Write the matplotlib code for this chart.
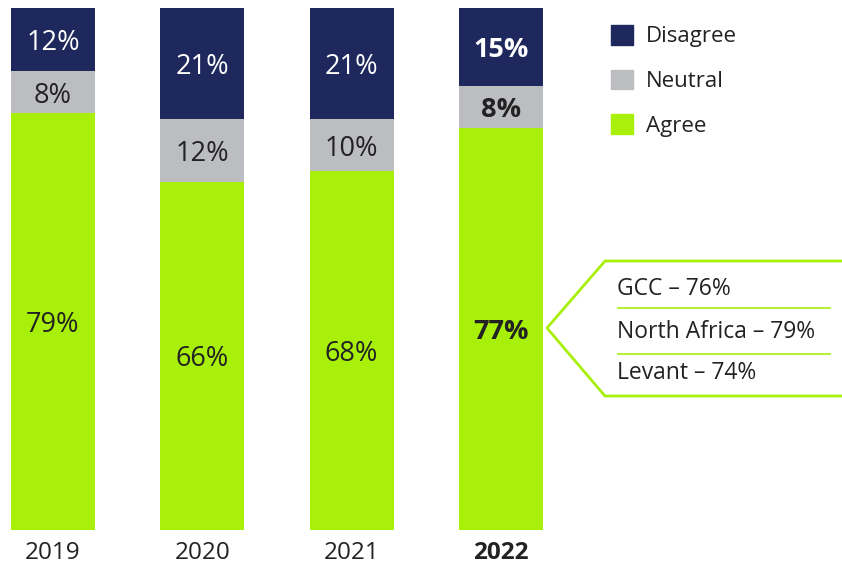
import numpy as np
import matplotlib
matplotlib.use("Agg")
import matplotlib.pyplot as plt
from matplotlib.patches import Patch

plt.rcParams['font.family'] = ['Open Sans', 'DejaVu Sans']

# data
years = ['2019', '2020', '2021', '2022']
agree = [79, 66, 68, 77]
neutral = [8, 12, 10, 8]
disagree = [12, 21, 21, 15]
regions = ['GCC', 'North Africa', 'Levant']
region_agree = [76, 79, 74]

navy = '#1e285c'
grey = '#bcbdc1'
green = '#a8f00a'
txt = '#222222'

fig = plt.figure(figsize=(8.42, 5.65), dpi=100)
ax = fig.add_axes([0, 35 / 565, 1, 522 / 565])

x = np.arange(len(years))
tot = np.array(agree) + np.array(neutral) + np.array(disagree)
a = np.array(agree) / tot * 100
n = np.array(neutral) / tot * 100
d = np.array(disagree) / tot * 100
w = 0.5625
ax.bar(x, a, w, color=green)
ax.bar(x, n, w, bottom=a, color=grey)
ax.bar(x, d, w, bottom=a + n, color=navy)

for i in range(len(years)):
    bold = 'bold' if years[i] == '2022' else 'normal'
    ax.text(x[i], a[i] / 2, f'{agree[i]}%', ha='center', va='center_baseline',
            fontsize=19.5, color=txt, fontweight=bold)
    ax.text(x[i], a[i] + n[i] / 2, f'{neutral[i]}%', ha='center', va='center_baseline',
            fontsize=19.5, color=txt, fontweight=bold)
    ax.text(x[i], a[i] + n[i] + d[i] / 2, f'{disagree[i]}%', ha='center',
            va='center_baseline', fontsize=19.5, color='white', fontweight=bold)
    ax.text(x[i], -4.4, years[i], ha='center', va='center', fontsize=17.5,
            color=txt, fontweight=bold)

ax.set_xlim(-53 / 149.33, (842 - 53) / 149.33)
ax.set_ylim(0, 100)
ax.axis('off')

handles = [Patch(color=navy), Patch(color=grey), Patch(color=green)]
fig.legend(handles, ['Disagree', 'Neutral', 'Agree'], loc='upper left',
           bbox_to_anchor=(591 / 842, 1 - 5 / 565), frameon=False, fontsize=16,
           handlelength=0.99, handleheight=0.99, labelspacing=1.0,
           handletextpad=0.6, labelcolor=txt)

# callout box for 2022 regional split
ov = fig.add_axes([0, 0, 1, 1], facecolor='none')
ov.set_xlim(0, 842)
ov.set_ylim(565, 0)
ov.axis('off')
ov.plot([850, 605, 547, 605, 850], [261, 261, 328, 396, 396], color=green, lw=2,
        clip_on=False)
for yy in [308, 354]:
    ov.plot([618, 830], [yy, yy], color=green, lw=1.2)
for yy, r, v in zip([289, 332, 373], regions, region_agree):
    ov.text(617, yy, f'{r} – {v}%', ha='left', va='center', fontsize=16.5, color=txt)

fig.savefig('out.png', dpi=100)
